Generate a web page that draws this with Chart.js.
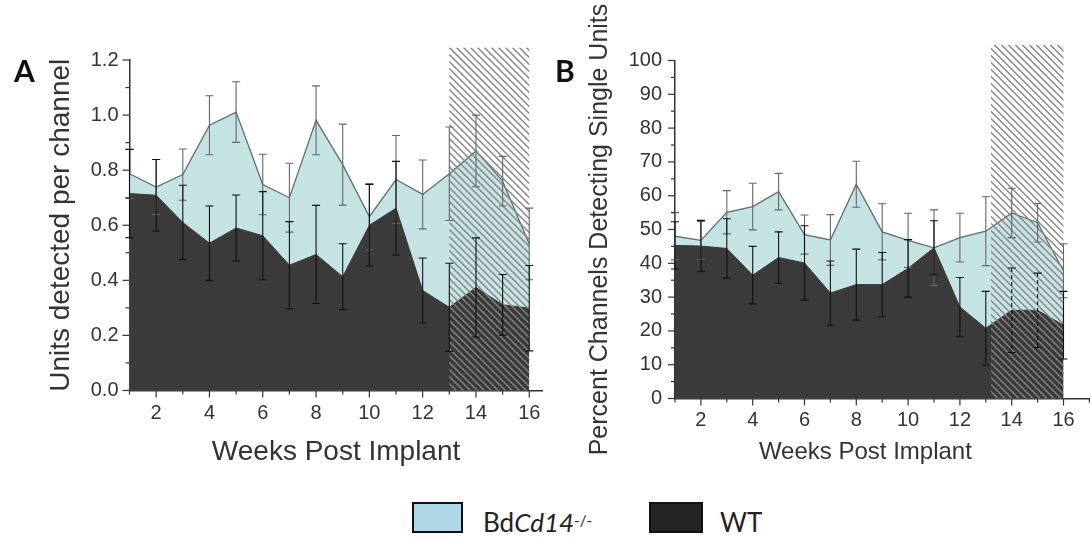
<!DOCTYPE html>
<html><head><meta charset="utf-8">
<script src="https://cdn.jsdelivr.net/npm/chart.js@4.4.1/dist/chart.umd.min.js"></script>
<style>
body{margin:0;background:#fff;width:1092px;height:540px;overflow:hidden;position:relative;}
canvas{position:absolute;top:0;}
#cA{left:0}
#cB{left:540px}
.panel{position:absolute;font-family:Lato,'Open Sans',sans-serif;font-weight:700;font-size:30px;color:#111;line-height:30px}
.lbox{position:absolute;top:502px;height:27px;border:2px solid #111}
.ltxt{position:absolute;top:507px;font-family:Lato,'Open Sans',sans-serif;font-size:26px;line-height:30px;color:#222;white-space:nowrap}
.ltxt sup{font-size:15px;vertical-align:top;position:relative;top:-2px}
</style></head>
<body>
<canvas id="cA" width="553" height="480"></canvas>
<canvas id="cB" width="552" height="480"></canvas>
<div class="panel" style="left:14px;top:55px">A</div>
<div class="panel" style="left:555px;top:55px">B</div>
<div class="lbox" style="left:412px;width:47px;background:#add8e6"></div>
<div class="ltxt" style="left:483px">Bd<i>Cd14</i><sup>-/-</sup></div>
<div class="lbox" style="left:649px;width:50px;background:#232323"></div>
<div class="ltxt" style="left:720px">WT</div>
<script>
// ---- data ----
const weeks = [1,2,3,4,5,6,7,8,9,10,11,12,13,14,15,16];
const bdA    = [0.787,0.739,0.784,0.963,1.011,0.748,0.700,0.981,0.820,0.631,0.766,0.712,0.787,0.870,0.760,0.532];
const wtA    = [0.715,0.709,0.610,0.535,0.590,0.562,0.455,0.494,0.413,0.600,0.662,0.363,0.302,0.374,0.311,0.299];
const bdErrA = [0.09,0.10,0.093,0.107,0.11,0.11,0.125,0.125,0.147,0.12,0.16,0.125,0.17,0.13,0.09,0.13];
const wtErrA = [0.16,0.13,0.135,0.135,0.12,0.16,0.158,0.178,0.12,0.148,0.17,0.118,0.16,0.18,0.11,0.155];
const bdB    = [48.0,46.8,55.1,56.8,61.2,48.5,46.9,63.4,49.3,46.8,44.6,47.6,49.5,54.9,52.0,37.8];
const wtB    = [45.3,45.1,44.4,36.5,41.7,40.1,31.2,33.7,33.7,38.5,44.6,27.1,20.8,26.1,26.1,21.7];
const bdErrB = [7,5.6,6.4,6.9,5.4,5.8,7.5,6.8,8.3,8,11.2,7.2,10.2,7.3,5.7,8];
const wtErrB = [7,7.6,8.8,8.5,7.6,11,9.5,10.5,9.5,8.5,8,8.7,10.9,12.5,11,10];
const xTickLabels  = ['2','4','6','8','10','12','14','16'];
const yTickLabelsA = ['0.0','0.2','0.4','0.6','0.8','1.0','1.2'];
const yTickLabelsB = ['0','10','20','30','40','50','60','70','80','90','100'];
const hatchA = [13, 16, 1.245];
const hatchB = [13.2, 16, 104.6];

Chart.defaults.font.family = "'Liberation Sans', Arial, sans-serif";
const LIGHT = '#c6e3e3', DARK = '#3b3b3b', TXT = '#333';

function makeDeco(cfg, bars){
  const hatch = cfg.hatch;
  return {
    id:'deco',
    afterDatasetsDraw(chart){
      const {ctx, scales:{x,y}} = chart;
      const x0 = x.getPixelForValue(hatch[0]), x1 = x.getPixelForValue(hatch[1]);
      const yT = y.getPixelForValue(hatch[2]), yB = y.getPixelForValue(0);
      ctx.save();
      ctx.beginPath(); ctx.rect(x0, yT, x1-x0, yB-yT); ctx.clip();
      ctx.strokeStyle = '#858585'; ctx.lineWidth = 1.4;
      const h = yB - yT;
      for (let s = x0 - h; s < x1 + 10; s += 7) {
        ctx.beginPath(); ctx.moveTo(s, yT); ctx.lineTo(s + h, yB); ctx.stroke();
      }
      ctx.restore();
      ctx.save();
      bars.forEach(b => {
        ctx.strokeStyle = b.color; ctx.lineWidth = 1.1;
        b.vals.forEach((v,i) => {
          const w = weeks[i];
          const px = x.getPixelForValue(w);
          const pt = y.getPixelForValue(v + b.err[i]), pb = y.getPixelForValue(v - b.err[i]);
          ctx.setLineDash(b.wt && cfg.dash && w > hatch[0] && w < hatch[1] ? [4,3] : []);
          ctx.beginPath(); ctx.moveTo(px, pt); ctx.lineTo(px, pb); ctx.stroke();
          ctx.setLineDash([]);
          ctx.beginPath(); ctx.moveTo(px-4, pt); ctx.lineTo(px+4, pt);
          ctx.moveTo(px-4, pb); ctx.lineTo(px+4, pb); ctx.stroke();
        });
      });
      ctx.restore();
    },
    afterDraw(chart){
      const {ctx, chartArea:ca, scales:{x,y}} = chart;
      ctx.save(); ctx.strokeStyle = '#333'; ctx.lineWidth = 1.2;
      const yt = y.ticks.map(t => t.value);
      const xt = x.ticks.map(t => t.value);
      const tick = (arr, minor) => arr.forEach(v => {
        const p = y.getPixelForValue(v);
        ctx.beginPath(); ctx.moveTo(ca.left - (minor?4:7), p); ctx.lineTo(ca.left, p); ctx.stroke();
      });
      tick(yt, false);
      tick(yt.slice(1).map((v,i) => (v + yt[i]) / 2), true);
      const xtick = (arr, minor) => arr.forEach(v => {
        if (v > x.max) return;
        const p = x.getPixelForValue(v);
        ctx.beginPath(); ctx.moveTo(p, ca.bottom); ctx.lineTo(p, ca.bottom + (minor?4:7)); ctx.stroke();
      });
      xtick(xt, false);
      xtick(xt.map(v => v - 1).concat([xt[xt.length-1] + 1]), true);
      // x-axis title, centred on the given data position
      ctx.fillStyle = TXT;
      ctx.font = cfg.xtSize + "px 'Liberation Sans', Arial, sans-serif";
      ctx.textAlign = 'center'; ctx.textBaseline = 'middle';
      ctx.fillText('Weeks Post Implant', x.getPixelForValue(cfg.xtCenter), cfg.xtY);
      ctx.restore();
    }
  };
}

function makeChart(id, cfg){
  const pts = arr => weeks.map((w,i) => ({x:w, y:arr[i]}));
  return new Chart(document.getElementById(id), {
    type:'line',
    data:{datasets:[
      {label:'WT', data:pts(cfg.wt), order:1, fill:'origin', backgroundColor:DARK, borderColor:DARK, borderWidth:1, pointRadius:0, tension:0},
      {label:'BdCd14-/-', data:pts(cfg.bd), order:2, fill:'origin', backgroundColor:LIGHT, borderColor:'#5d6e6e', borderWidth:1.3, pointRadius:0, tension:0}
    ]},
    options:{
      responsive:false, animation:false, devicePixelRatio:1,
      layout:{autoPadding:false, padding:{left:0, top:cfg.top, right:cfg.padR, bottom:0}},
      plugins:{legend:{display:false}, tooltip:{enabled:false}},
      scales:{
        x:{type:'linear', min:1, max:cfg.xmax,
          border:{display:true, color:'#333', width:1.5},
          grid:{display:false, drawTicks:false},
          afterBuildTicks: s => { s.ticks = xTickLabels.map(t => ({value:Number(t)})); },
          afterFit: s => { s.height = 480 - cfg.bottom; },
          ticks:{padding:cfg.xpad, color:TXT, font:{size:20}, maxRotation:0, autoSkip:false, callback:(v,i) => xTickLabels[i]}
        },
        y:{type:'linear', min:0, max:cfg.ymax,
          border:{display:true, color:'#333', width:1.5},
          grid:{display:false, drawTicks:false},
          afterBuildTicks: s => { s.ticks = cfg.ylabels.map(t => ({value:parseFloat(t)})); },
          afterFit: s => { s.width = cfg.left; },
          ticks:{padding:cfg.ypad, color:TXT, font:{size:20}, autoSkip:false, callback:(v,i) => cfg.ylabels[i]},
          title:{display:true, text:cfg.ytitle, color:TXT, font:{size:cfg.ytSize}, padding:{top:cfg.ytPad, bottom:0}}
        }
      }
    },
    plugins:[makeDeco(cfg, [
      {vals:cfg.bd, err:cfg.bdErr, color:'#666', wt:false},
      {vals:cfg.wt, err:cfg.wtErr, color:'#111', wt:true}
    ])]
  });
}

makeChart('cA', {bd:bdA, wt:wtA, bdErr:bdErrA, wtErr:wtErrA, ylabels:yTickLabelsA, ymax:1.2, xmax:16.5,
  top:60, bottom:390.5, left:129.5, padR:10.4, xpad:11, ypad:11, ytitle:'Units detected per channel',
  ytSize:28, ytPad:44, xtSize:28, xtCenter:8.75, xtY:452, hatch:hatchA, dash:false});
makeChart('cB', {bd:bdB, wt:wtB, bdErr:bdErrB, wtErr:wtErrB, ylabels:yTickLabelsB, ymax:100, xmax:17,
  top:60.5, bottom:398.5, left:135, padR:2.6, xpad:10, ypad:13, ytitle:'Percent Channels Detecting Single Units',
  ytSize:25, ytPad:45, xtSize:24, xtCenter:8.35, xtY:452, hatch:hatchB, dash:true});
</script>
</body></html>
